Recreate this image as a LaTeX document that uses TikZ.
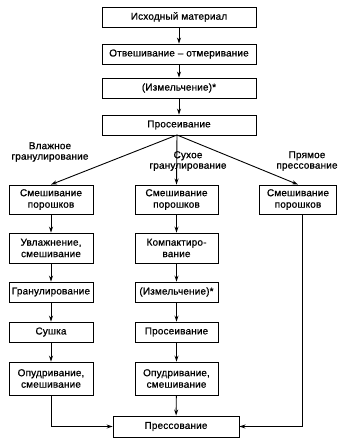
\documentclass[tikz,border=0pt]{standalone}
\usepackage{fontspec}
\setmainfont{Liberation Sans}[FakeBold=0.8,LetterSpace=1.5]
\usetikzlibrary{arrows.meta}
\begin{document}
\begin{tikzpicture}[x=1pt,y=-1pt,
  box/.style={draw,line width=0.9pt,align=center,inner sep=1pt,
    font=\fontsize{10}{11.5}\selectfont},
  topbox/.style={box,minimum width=154,minimum height=20},
  lbox/.style={box,minimum width=84,inner xsep=2pt},
  mbox/.style={box,minimum width=83},
  rbox/.style={box,minimum width=77},
  lab/.style={align=center,inner sep=0pt,font=\fontsize{10}{10.5}\selectfont},
  arr/.style={-{Stealth[length=6pt,width=4pt]},line width=0.9pt}]
\useasboundingbox (0,0) rectangle (357,441);

% top chain
\node[topbox] (a1) at (179,17) {Исходный материал};
\node[topbox] (a2) at (179,54) {Отвешивание – отмеривание};
\node[topbox] (a3) at (179,88) {(Измельчение)*};
\node[topbox] (a4) at (179,125) {Просеивание};
\draw[arr] (a1) -- (a2);
\draw[arr] (a2) -- (a3);
\draw[arr] (a3) -- (a4);

% row 2
\node[lbox,minimum height=29] (l1) at (51,199.5) {Смешивание\\порошков};
\node[mbox,minimum height=29] (m1) at (176.5,199.5) {Смешивание\\порошков};
\node[rbox,minimum height=29] (r1) at (298,199.5) {Смешивание\\порошков};

\coordinate (fan) at (177,135);
\draw[arr] (fan) -- (l1.north);
\draw[arr] (fan) -- (m1.north);
\draw[arr] (fan) -- (r1.north);

\node[lab] (t1) at (50,152) {Влажное\\гранулирование};
\node[lab] (t2) at (188,161) {Сухое\\гранулирование};
\node[lab] (t3) at (307,161) {Прямое\\прессование};

% left column
\node[lbox,minimum height=30] (l2) at (51,248) {Увлажнение,\\смешивание};
\node[lbox,minimum height=20] (l3) at (51,292) {Гранулирование};
\node[lbox,minimum height=20] (l4) at (51,332) {Сушка};
\node[lbox,minimum height=33] (l5) at (51,378.5) {Опудривание,\\смешивание};
\draw[arr] (l1) -- (l2);
\draw[arr] (l2) -- (l3);
\draw[arr] (l3) -- (l4);
\draw[arr] (l4) -- (l5);

% middle column
\node[mbox,minimum height=30] (m2) at (176.5,248) {Компактиро-\\вание};
\node[mbox,minimum height=20] (m3) at (176.5,292) {(Измельчение)*};
\node[mbox,minimum height=20] (m4) at (176.5,332) {Просеивание};
\node[mbox,minimum height=33] (m5) at (176.5,378.5) {Опудривание,\\смешивание};
\draw[arr] (m1) -- (m2);
\draw[arr] (m2) -- (m3);
\draw[arr] (m3) -- (m4);
\draw[arr] (m4) -- (m5);

% final
\node[box,minimum width=126,minimum height=21] (p) at (176,426.5) {Прессование};
\draw[arr] (m5) -- (p);
\draw[arr] (l5.south) |- (p.west);
\draw[arr] ([xshift=4pt]r1.south) |- (p.east);
\end{tikzpicture}
\end{document}
